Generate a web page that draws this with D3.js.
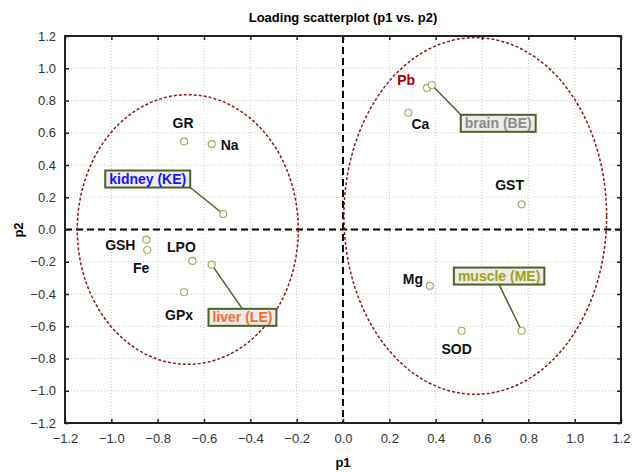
<!DOCTYPE html>
<html>
<head>
<meta charset="utf-8">
<script src="https://cdn.jsdelivr.net/npm/d3@7"></script>
<style>
  html, body { margin: 0; padding: 0; background: #fff; }
  svg { display: block; font-family: "Liberation Sans", Arial, sans-serif; }
</style>
</head>
<body>
<svg id="chart" width="632" height="472"></svg>
<script>
// ---- Data ----
const variables = ["GR", "Na", "GSH", "Fe", "LPO", "GPx", "Pb", "Ca", "GST", "Mg", "SOD"];
const varP1 = [-0.686, -0.567, -0.849, -0.845, -0.650, -0.686, 0.363, 0.282, 0.771, 0.375, 0.512];
const varP2 = [0.545, 0.530, -0.063, -0.127, -0.195, -0.389, 0.878, 0.724, 0.156, -0.349, -0.628];

const organs = ["kidney (KE)", "liver (LE)", "brain (BE)", "muscle (ME)"];
const organP1 = [-0.517, -0.567, 0.383, 0.771];
const organP2 = [0.096, -0.218, 0.896, -0.628];

const ellipseCx = [-0.670, 0.571];
const ellipseCy = [0.000, 0.084];
const ellipseRx = [0.477, 0.567];
const ellipseRy = [0.836, 1.106];

const tickValues = [-1.2, -1.0, -0.8, -0.6, -0.4, -0.2, 0.0, 0.2, 0.4, 0.6, 0.8, 1.0, 1.2];

// ---- Layout / style (not data) ----
const varLabelOffset = {
  GR: [-1, -19], Na: [18, 1], GSH: [-26, 5], Fe: [-6, 18], LPO: [-11, -14], GPx: [-5, 23],
  Pb: [-21, -8], Ca: [12, 11], GST: [-12, -19], Mg: [-17, -7], SOD: [-5, 18]
};
const varLabelColor = { Pb: "#a00000" };
const organStyle = [
  { dx: -75.5, dy: -35, ax: 1, ay: 1, color: "#1616ff" },
  { dx: 30.8, dy: 52.7, ax: 0.5, ay: 0, color: "#ff6a2b" },
  { dx: 66.5, dy: 38.3, ax: 0, ay: 0, color: "#8a8a8a" },
  { dx: -22.5, dy: -54.7, ax: 0.5, ay: 1, color: "#a0a018" }
];

const svg = d3.select("#chart");
const L = 65, R = 621, T = 36, B = 423;
const x = d3.scaleLinear().domain([-1.2, 1.2]).range([L, R]);
const y = d3.scaleLinear().domain([-1.2, 1.2]).range([B, T]);
const fmt = d3.format(".1f");

svg.append("rect").attr("width", 632).attr("height", 472).attr("fill", "#fff");

// gridlines
const grid = svg.append("g");
grid.selectAll("line.gx").data(tickValues.slice(1, -1)).join("line")
  .attr("x1", d => x(d)).attr("x2", d => x(d)).attr("y1", T).attr("y2", B)
  .attr("stroke", "#c8c8c8").attr("stroke-width", 1).attr("stroke-dasharray", "1,2");
grid.selectAll("line.gy").data(tickValues.slice(1, -1)).join("line")
  .attr("y1", d => y(d)).attr("y2", d => y(d)).attr("x1", L).attr("x2", R)
  .attr("stroke", "#c8c8c8").attr("stroke-width", 1).attr("stroke-dasharray", "1,2");

// zero lines
svg.append("line").attr("x1", x(0)).attr("x2", x(0)).attr("y1", T).attr("y2", B)
  .attr("stroke", "#000").attr("stroke-width", 2).attr("stroke-dasharray", "7,4");
svg.append("line").attr("y1", y(0)).attr("y2", y(0)).attr("x1", L).attr("x2", R)
  .attr("stroke", "#000").attr("stroke-width", 2).attr("stroke-dasharray", "7,4");

// ellipses
svg.selectAll("ellipse.grp").data(ellipseCx).join("ellipse")
  .attr("cx", (d, i) => x(ellipseCx[i]))
  .attr("cy", (d, i) => y(ellipseCy[i]))
  .attr("rx", (d, i) => x(ellipseRx[i]) - x(0))
  .attr("ry", (d, i) => y(0) - y(ellipseRy[i]))
  .attr("fill", "none").attr("stroke", "#8b1a1a").attr("stroke-width", 1.5)
  .attr("stroke-dasharray", "3,2");

// axes
const axStyle = g => {
  g.select(".domain").remove();
  g.selectAll(".tick line").attr("stroke", "#222").attr("stroke-width", 1.5);
  g.selectAll(".tick text").attr("fill", "#333").style("font-size", "13px");
};
svg.append("g").attr("transform", `translate(0,${B})`)
  .call(d3.axisBottom(x).tickValues(tickValues).tickFormat(fmt).tickSize(-4).tickPadding(11))
  .call(axStyle);
svg.append("g").attr("transform", `translate(${L},0)`)
  .call(d3.axisLeft(y).tickValues(tickValues).tickFormat(fmt).tickSize(-4).tickPadding(9))
  .call(axStyle);
svg.append("g").attr("transform", `translate(0,${T})`)
  .call(d3.axisTop(x).tickValues(tickValues).tickFormat("").tickSize(-4))
  .call(axStyle);
svg.append("g").attr("transform", `translate(${R},0)`)
  .call(d3.axisRight(y).tickValues(tickValues).tickFormat("").tickSize(-4))
  .call(axStyle);

// frame
svg.append("rect").attr("x", L).attr("y", T).attr("width", R - L).attr("height", B - T)
  .attr("fill", "none").attr("stroke", "#222").attr("stroke-width", 2);

// titles
svg.append("text").attr("x", 343).attr("y", 17).attr("text-anchor", "middle")
  .attr("dominant-baseline", "central").style("font-size", "13px").style("font-weight", "bold")
  .text("Loading scatterplot (p1 vs. p2)");
svg.append("text").attr("x", 343).attr("y", 462).attr("text-anchor", "middle")
  .attr("dominant-baseline", "central").style("font-size", "13px").style("font-weight", "bold")
  .text("p1");
svg.append("text").attr("transform", "translate(18,230) rotate(-90)").attr("text-anchor", "middle")
  .attr("dominant-baseline", "central").style("font-size", "13px").style("font-weight", "bold")
  .text("p2");

// organ leader lines and boxes
const org = svg.append("g");
organs.forEach((name, i) => {
  const px = x(organP1[i]), py = y(organP2[i]);
  const st = organStyle[i];
  const cx = px + st.dx, cy = py + st.dy;
  const g = org.append("g");
  const line = g.append("line");
  const rect = g.append("rect");
  const t = g.append("text").attr("x", cx).attr("y", cy).attr("text-anchor", "middle")
    .attr("dominant-baseline", "central").style("font-size", "14px").style("font-weight", "bold")
    .attr("fill", st.color).text(name);
  const bb = t.node().getBBox();
  const w = bb.width + 8, h = 17;
  const bx = cx - w / 2, by = cy - h / 2;
  rect.attr("x", bx).attr("y", by).attr("width", w).attr("height", h)
    .attr("fill", "#ececec").attr("stroke", "#4f6228").attr("stroke-width", 2);
  line.attr("x1", px).attr("y1", py).attr("x2", bx + st.ax * w).attr("y2", by + st.ay * h)
    .attr("stroke", "#4f6228").attr("stroke-width", 1.5);
});

// points
const allP1 = varP1.concat(organP1), allP2 = varP2.concat(organP2);
svg.selectAll("circle.pt").data(allP1).join("circle")
  .attr("cx", (d, i) => x(allP1[i])).attr("cy", (d, i) => y(allP2[i]))
  .attr("r", 3.5).attr("fill", "#fff").attr("stroke", "#a8a860").attr("stroke-width", 1.2);

// variable labels
svg.selectAll("text.vl").data(variables).join("text")
  .attr("x", (d, i) => x(varP1[i]) + varLabelOffset[d][0])
  .attr("y", (d, i) => y(varP2[i]) + varLabelOffset[d][1])
  .attr("text-anchor", "middle").attr("dominant-baseline", "central")
  .style("font-size", "14px").style("font-weight", "bold")
  .attr("fill", d => varLabelColor[d] || "#111")
  .text(d => d);
</script>
</body>
</html>
